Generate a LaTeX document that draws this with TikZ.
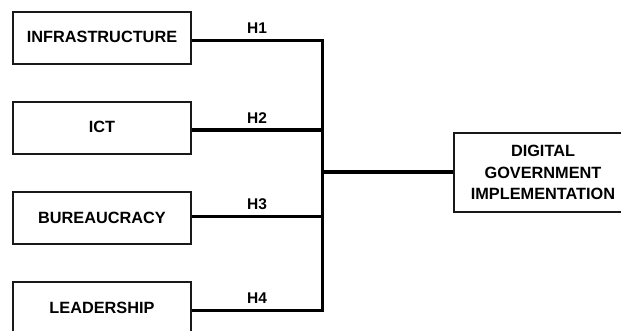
\documentclass[tikz,border=0pt]{standalone}
\usepackage{fontspec}
\setmainfont{Liberation Sans}
\usetikzlibrary{calc}
\begin{document}
\begin{tikzpicture}[x=1pt,y=1pt,
  factor/.style={draw=black!90, line width=1.5pt, minimum width=178pt, minimum height=52pt,
    inner sep=0pt, font=\bfseries\fontsize{16.3}{18}\selectfont},
  outcome/.style={draw=black!90, line width=1.5pt, minimum width=178pt, minimum height=79pt,
    inner sep=0pt, align=center, font=\bfseries\fontsize{16.3}{21.5}\selectfont},
  link/.style={line width=3.8pt, draw=black},
  hyp/.style={anchor=base, inner sep=0pt, font=\bfseries\fontsize{15.5}{18}\selectfont}]
\useasboundingbox (0,0) rectangle (621,330);

% predictor boxes
\node[factor] (b1) at (102,292) {\raisebox{2pt}{INFRASTRUCTURE}};
\node[factor] (b2) at (102,202) {\raisebox{1.5pt}{ICT}};
\node[factor] (b3) at (102,112) {BUREAUCRACY};
\node[factor] (b4) at (102,22) {\raisebox{1pt}{LEADERSHIP}};

% outcome box
\node[outcome] (dv) at (543,157.5) {DIGITAL\\GOVERNMENT\\IMPLEMENTATION};

% junctions on the collecting bus
\coordinate (j1) at (322.5,289.5);
\coordinate (j2) at (322.5,200);
\coordinate (j3) at (322.5,113.5);
\coordinate (j4) at (322.5,19.5);
\coordinate (jm) at (322.5,158);

% hypothesis paths
\draw[link] (j1 -| b1.east) -- (j1);
\draw[link] (j2 -| b2.east) -- (j2);
\draw[link] (j3 -| b3.east) -- (j3);
\draw[link] (j4 -| b4.east) -- (j4);
\draw[link, line cap=rect] (j1) -- (j4);
\draw[link] (jm) -- (jm -| dv.west);

% hypothesis labels
\node[hyp] (h1) at ($(j1 -| b1.east)!0.5!(j1) + (0,7)$) {H1};
\node[hyp] (h2) at ($(j2 -| b2.east)!0.5!(j2) + (0,7)$) {H2};
\node[hyp] (h3) at ($(j3 -| b3.east)!0.5!(j3) + (0,7)$) {H3};
\node[hyp] (h4) at ($(j4 -| b4.east)!0.5!(j4) + (0,7)$) {H4};
\end{tikzpicture}
\end{document}
